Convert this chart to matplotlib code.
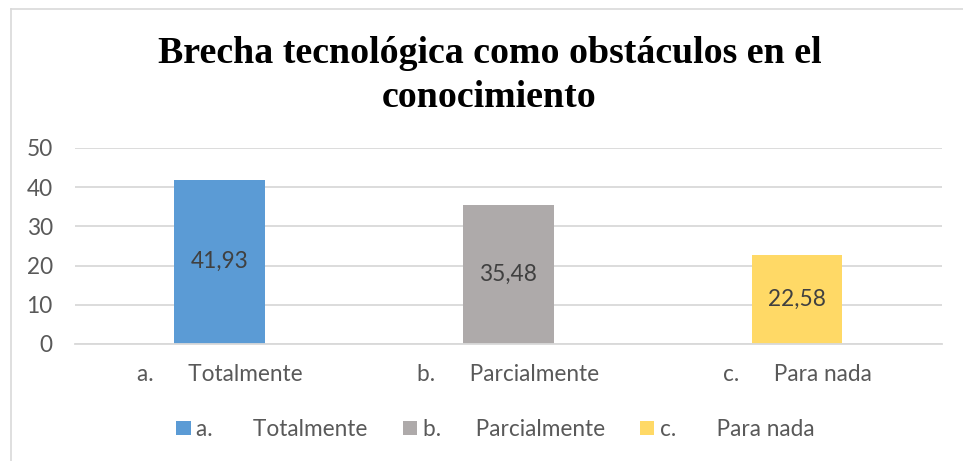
import matplotlib
matplotlib.use("Agg")
import matplotlib.pyplot as plt
from matplotlib.patches import Patch

categories = ["a.      Totalmente", "b.      Parcialmente", "c.      Para nada"]
legend_labels = ["a.       Totalmente", "b.      Parcialmente", "c.       Para nada"]
values = [41.93, 35.48, 22.58]
value_labels = ["41,93", "35,48", "22,58"]
colors = ["#5B9BD5", "#AEAAAA", "#FFD966"]
yticks = [0, 10, 20, 30, 40, 50]
title_lines = ["Brecha tecnológica como obstáculos en el", "conocimiento"]

W, H = 963, 461
fig = plt.figure(figsize=(W / 100, H / 100), dpi=100)
fig.patch.set_facecolor("white")

# chart border (only top and left visible in the crop)
fig.add_artist(plt.Line2D([10.5 / W, 10.5 / W], [0, 1 - 9.5 / H], color="#D9D9D9", lw=1.2))
fig.add_artist(plt.Line2D([10.5 / W, 1], [1 - 9.5 / H, 1 - 9.5 / H], color="#D9D9D9", lw=1.2))

ax = fig.add_axes([75 / W, 1 - 344 / H, (941.5 - 75) / W, (344 - 148) / H])
x = range(len(values))
bars = ax.bar(x, values, width=0.314, color=colors, zorder=3)
ax.set_xlim(-0.5, 2.5)
ax.set_ylim(0, 50)
ax.set_yticks(yticks)
ax.set_yticklabels([str(t) for t in yticks])
ax.set_xticks(list(x))
ax.set_xticklabels(categories)

font = "Lato"
tcolor = "#595959"
fs = 16.3
for lab in ax.get_xticklabels() + ax.get_yticklabels():
    lab.set_fontfamily(font)
    lab.set_fontsize(fs)
    lab.set_color(tcolor)
ax.tick_params(axis="both", length=0)
ax.tick_params(axis="y", pad=16)
ax.tick_params(axis="x", pad=14.5)
for s in ["top", "right", "left"]:
    ax.spines[s].set_visible(False)
ax.spines["bottom"].set_color("#D9D9D9")
ax.spines["bottom"].set_linewidth(1.3)
ax.spines["bottom"].set_zorder(4)
ax.yaxis.grid(True, color="#D9D9D9", linewidth=1.3, zorder=0)
ax.set_axisbelow(True)

for b, lab in zip(bars, value_labels):
    ax.text(b.get_x() + b.get_width() / 2, b.get_height() / 2, lab,
            ha="center", va="center", fontsize=fs, family=font, color="#404040", zorder=5)

handles = [Patch(facecolor=c, edgecolor="none") for c in colors]
leg = fig.legend(handles, legend_labels, loc="center", bbox_to_anchor=(495.5 / W, 1 - 429.5 / H),
                 ncol=3, frameon=False, prop={"family": font, "size": fs},
                 handlelength=0.62, handleheight=0.62, handletextpad=0.26,
                 columnspacing=1.55, borderpad=0)
for t in leg.get_texts():
    t.set_color(tcolor)

fig.text(489.5 / W, 1 - 63 / H, title_lines[0], ha="center", va="baseline",
         family="Liberation Serif", fontweight="bold", fontsize=27.3, color="black")
fig.text(489.5 / W, 1 - 107 / H, title_lines[1], ha="center", va="baseline",
         family="Liberation Serif", fontweight="bold", fontsize=27.3, color="black")

fig.savefig("out.png", dpi=100)
